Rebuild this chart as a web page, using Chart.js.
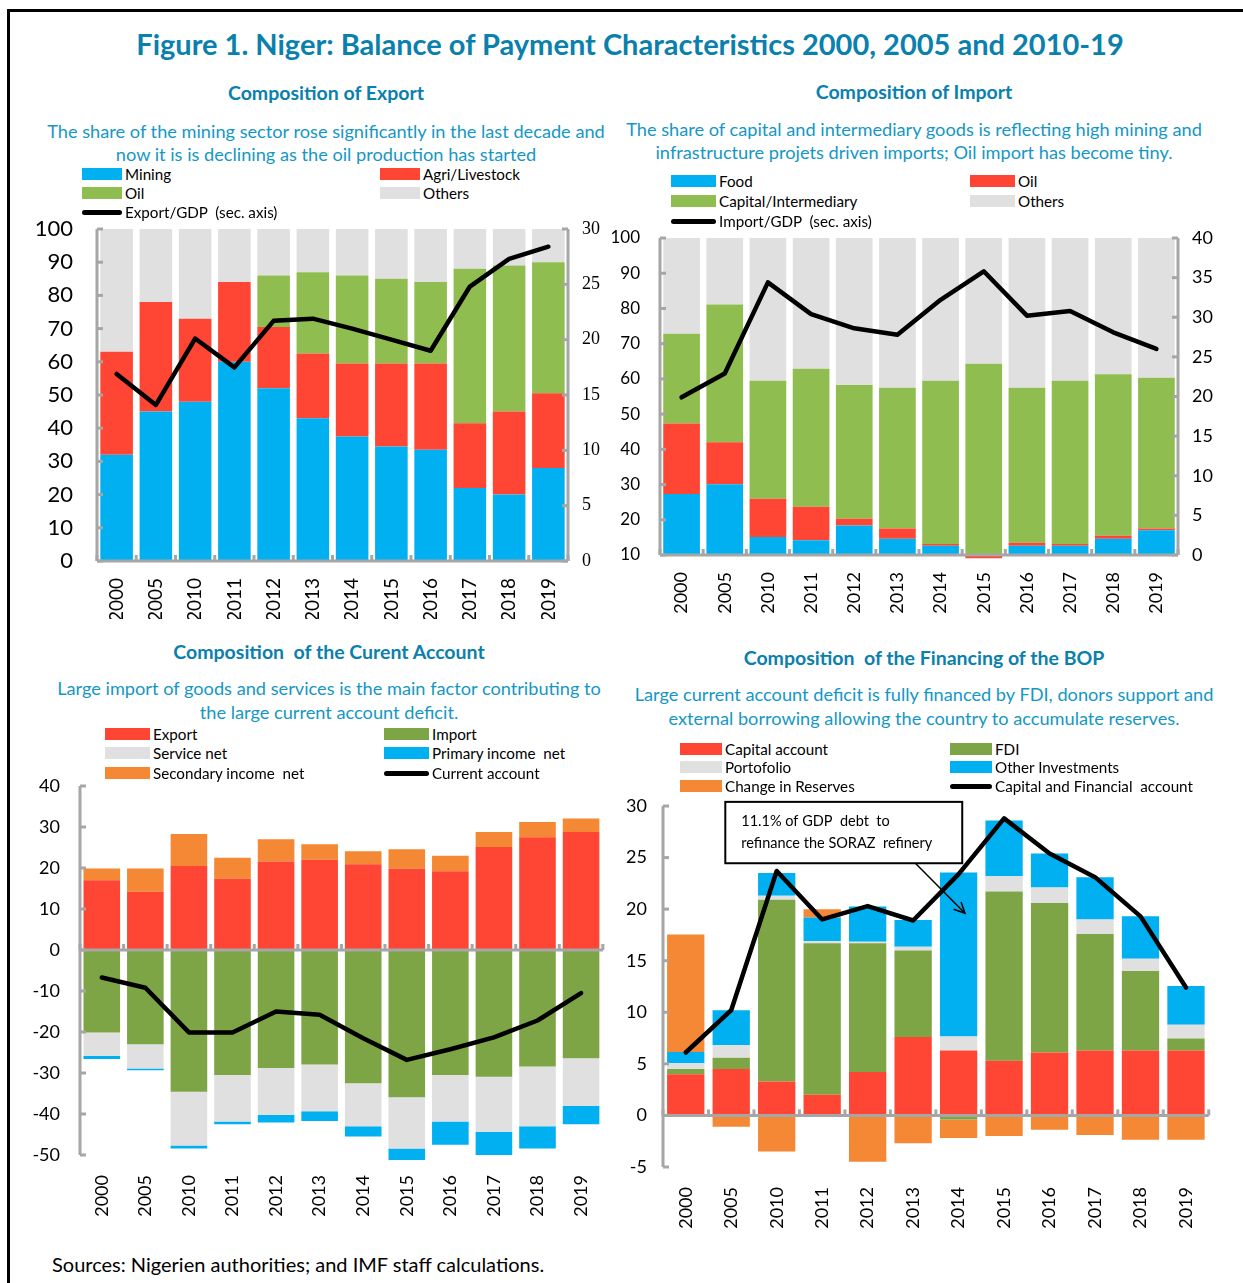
<!DOCTYPE html>
<html>
<head>
<meta charset="utf-8">
<script src="https://cdn.jsdelivr.net/npm/chart.js@4.4.1/dist/chart.umd.min.js"></script>
<style>
  body { margin: 0; background: #fff; font-family: Lato, sans-serif; }
  #page { position: relative; width: 1243px; height: 1283px; overflow: hidden; }
  #frame { position: absolute; left: 7px; top: 9px; width: 1400px; height: 1400px;
           border-left: 3px solid #000; border-top: 3px solid #000; }
  .t { position: absolute; white-space: nowrap; transform: translate(-50%, -50%); }
  .title { font-weight: bold; font-size: 29px; color: #0a80ad; }
  .sub { font-weight: bold; font-size: 19.5px; color: #0a80ad; }
  .desc { font-size: 18.2px; color: #1597c5; }
  .leg { position: absolute; font-size: 15.2px; color: #000; white-space: pre; transform: translateY(-50%); }
  .sw { position: absolute; }
  .src { position: absolute; left: 52px; top: 1264px; transform: translateY(-50%); font-size: 20px; white-space: nowrap; }
  canvas { position: absolute; }
</style>
</head>
<body>
<div id="page">
  <div id="frame"></div>
  <div class="t title" style="left:630px;top:43px">Figure 1. Niger: Balance of Payment Characteristics 2000, 2005 and 2010-19</div>

  <div class="t sub" style="left:326px;top:92px">Composition of Export</div>
  <div class="t desc" style="left:326px;top:131px">The share of the mining sector rose significantly in the last decade and</div>
  <div class="t desc" style="left:326px;top:154px">now it is is declining as the oil production has started</div>

  <div class="t sub" style="left:914px;top:91px">Composition of Import</div>
  <div class="t desc" style="left:914px;top:129px">The share of capital and intermediary goods is reflecting high mining and</div>
  <div class="t desc" style="left:914px;top:152px">infrastructure projets driven imports; Oil import has become tiny.</div>

  <div class="t sub" style="left:329px;top:651px">Composition&nbsp; of the Curent Account</div>
  <div class="t desc" style="left:329px;top:688px">Large import of goods and services is the main factor contributing to</div>
  <div class="t desc" style="left:329px;top:712px">the large current account deficit.</div>

  <div class="t sub" style="left:924px;top:657px">Composition&nbsp; of the Financing of the BOP</div>
  <div class="t desc" style="left:924px;top:694px">Large current account deficit is fully financed by FDI, donors support and</div>
  <div class="t desc" style="left:924px;top:718px">external borrowing allowing the country to accumulate reserves.</div>

  <div class="src">Sources: Nigerien authorities; and IMF staff calculations.</div>

  <canvas id="exportChart" width="600" height="410" style="left:20px;top:209px"></canvas>
  <canvas id="importChart" width="643" height="400" style="left:600px;top:216px"></canvas>
  <canvas id="caChart" width="595" height="455" style="left:20px;top:765px"></canvas>
  <canvas id="bopChart" width="605" height="445" style="left:615px;top:785px"></canvas>
</div>

<script>
const years = ['2000', '2005', '2010', '2011', '2012', '2013', '2014', '2015', '2016', '2017', '2018', '2019'];

// Composition of export (% of total), export/GDP on secondary axis
const expMining = [32, 45, 48, 60, 52, 43, 37.5, 34.5, 33.5, 22, 20, 28];
const expAgri = [31, 33, 25, 24, 18.5, 19.5, 22, 25, 26, 19.5, 25, 22.5];
const expOil = [0, 0, 0, 0, 15.5, 24.5, 26.5, 25.5, 24.5, 46.5, 44, 39.5];
const expOthers = [37, 22, 27, 16, 14, 13, 14, 15, 16, 12, 11, 10];
const exportGdp = [16.9, 14.1, 20.1, 17.5, 21.7, 21.9, 21.0, 20.0, 19.0, 24.8, 27.3, 28.4];
const expLeftTicks = [0, 10, 20, 30, 40, 50, 60, 70, 80, 90, 100];
const expRightTicks = [0, 5, 10, 15, 20, 25, 30];

// Composition of import (% of total), import/GDP on secondary axis
const impFood = [27.3, 30.1, 15.1, 14.2, 18.4, 14.6, 12.6, 9.1, 12.6, 12.6, 14.6, 17.0];
const impOil = [20.0, 11.9, 10.9, 9.5, 1.9, 2.9, 0.5, 0.9, 0.9, 0.5, 0.9, 0.5];
const impCapital = [25.5, 39.1, 33.5, 39.2, 38.0, 40.0, 46.4, 54.3, 44.0, 46.4, 45.8, 42.8];
const impOthers = [27.2, 18.9, 40.5, 37.1, 41.7, 42.5, 40.5, 35.7, 42.5, 40.5, 38.7, 39.7];
const importGdp = [19.9, 22.9, 34.4, 30.4, 28.6, 27.8, 32.2, 35.8, 30.2, 30.8, 28.1, 26.0];
const impLeftTicks = [10, 20, 30, 40, 50, 60, 70, 80, 90, 100];
const impRightTicks = [0, 5, 10, 15, 20, 25, 30, 35, 40];

// Current account (% of GDP)
const caExport = [17.0, 14.2, 20.5, 17.4, 21.6, 22.0, 20.9, 19.8, 19.2, 25.1, 27.5, 28.8];
const caImport = [-20.1, -23.0, -34.6, -30.5, -28.8, -27.9, -32.5, -35.9, -30.5, -30.9, -28.4, -26.4];
const caService = [-5.7, -5.9, -13.1, -11.3, -11.4, -11.4, -10.5, -12.5, -11.3, -13.4, -14.6, -11.6];
const caPrimary = [-0.8, -0.4, -0.7, -0.7, -1.9, -2.4, -2.5, -2.8, -5.7, -5.7, -5.4, -4.5];
const caSecondary = [2.9, 5.7, 7.8, 5.1, 5.4, 3.8, 3.2, 4.8, 3.8, 3.7, 3.7, 3.3];
const currentAccount = [-6.7, -9.2, -20.1, -20.1, -15.0, -15.8, -21.5, -26.8, -24.2, -21.3, -17.2, -10.5];
const caTicks = [-50, -40, -30, -20, -10, 0, 10, 20, 30, 40];

// Financing of the BOP (% of GDP)
const bopCapital = [4.0, 4.5, 3.3, 2.0, 4.2, 7.6, 6.3, 5.3, 6.1, 6.3, 6.3, 6.3];
const bopFdi = [0.5, 1.1, 17.6, 14.7, 12.5, 8.4, -0.4, 16.4, 14.5, 11.3, 7.7, 1.15];
const bopPortfolio = [0.55, 1.2, 0.4, 0.2, 0.15, 0.35, 1.35, 1.5, 1.5, 1.4, 1.2, 1.35];
const bopOther = [1.1, 3.4, 2.2, 2.3, 3.4, 2.6, 15.9, 5.4, 3.3, 4.1, 4.1, 3.75];
const bopReserves = [11.4, -1.1, -3.5, 0.8, -4.5, -2.7, -1.8, -2.0, -1.4, -1.9, -2.35, -2.35];
const capFinAccount = [6.1, 10.2, 23.7, 19.0, 20.3, 18.9, 23.4, 28.8, 25.4, 23.1, 19.3, 12.4];
const bopTicks = [-5, 0, 5, 10, 15, 20, 25, 30];

const BLUE = '#00b0f0', RED = '#ff4533', LGREEN = '#8fbd50', DGREEN = '#7da545',
      GREY = '#e0e0e0', ORANGE = '#f48835', AXIS = '#a6a6a6';

// axis lines with inward tick marks, like the Excel original
const excelAxes = {
  id: 'excelAxes',
  afterDatasetsDraw(chart, args, opts) {
    const { ctx, chartArea: a, scales } = chart;
    ctx.save();
    ctx.strokeStyle = AXIS;
    ctx.lineWidth = 3;
    ['y', 'y1'].forEach(id => {
      const s = scales[id];
      if (!s) return;
      const right = s.position === 'right';
      const x = right ? a.right : a.left;
      ctx.beginPath(); ctx.moveTo(x, a.top); ctx.lineTo(x, a.bottom); ctx.stroke();
      s.ticks.forEach((t, i) => {
        const y = s.getPixelForTick(i);
        ctx.beginPath(); ctx.moveTo(x, y); ctx.lineTo(x + (right ? -6 : 6), y); ctx.stroke();
      });
    });
    const xs = scales.x;
    const y0 = opts.at === undefined ? a.bottom : scales.y.getPixelForValue(opts.at);
    ctx.beginPath(); ctx.moveTo(a.left, y0); ctx.lineTo(a.right, y0); ctx.stroke();
    for (let i = 0; i <= xs.ticks.length; i++) {
      const x = xs.getPixelForValue(i - 0.5);
      ctx.beginPath(); ctx.moveTo(x, y0); ctx.lineTo(x, y0 - 6); ctx.stroke();
    }
    ctx.restore();
  }
};

function bar(label, data, color, extra) {
  return Object.assign({ type: 'bar', label, data, backgroundColor: color, order: 1,
    categoryPercentage: 1, barPercentage: 0.83, yAxisID: 'y' }, extra || {});
}
function line(label, data, axis) {
  return { type: 'line', label, data, borderColor: '#000', backgroundColor: '#000',
    borderWidth: 4.5, pointRadius: 0, tension: 0, order: 0, yAxisID: axis,
    borderJoinStyle: 'round', borderCapStyle: 'round' };
}
function yAxis(pos, min, max, ticks, width, font, pad) {
  return {
    position: pos, min, max, stacked: pos === 'left',
    afterBuildTicks: s => { s.ticks = ticks.map(v => ({ value: v })); },
    afterFit: s => { s.width = width; s.paddingTop = 0; s.paddingBottom = 0; },
    grid: { display: false }, border: { display: false },
    ticks: { color: '#000', font, padding: pad }
  };
}
function xAxis(height, font, pad) {
  return {
    stacked: true, offset: true,
    afterFit: s => { s.height = height; },
    grid: { display: false }, border: { display: false },
    ticks: { color: '#000', font, padding: pad, minRotation: 90, maxRotation: 90, autoSkip: false }
  };
}
function baseOptions(scales, padding, axisOpts) {
  return {
    responsive: false, animation: false,
    layout: { padding },
    plugins: { legend: { display: false }, tooltip: { enabled: false }, excelAxes: axisOpts || {} },
    scales
  };
}

// legend drawn as html next to each chart, built from the datasets
function legend(datasets, spots, swW) {
  const page = document.getElementById('page');
  datasets.forEach((d, i) => {
    const [x, y] = spots[i];
    const sw = document.createElement('div');
    sw.className = 'sw';
    if (d.type === 'line') {
      sw.style.cssText = `left:${x}px;top:${y - 2.5}px;width:${swW}px;height:5px;background:#000;border-radius:3px`;
    } else {
      sw.style.cssText = `left:${x}px;top:${y - 6}px;width:${swW}px;height:12px;background:${d.backgroundColor}`;
    }
    page.appendChild(sw);
    const lb = document.createElement('div');
    lb.className = 'leg';
    lb.style.left = (x + swW + 3) + 'px';
    lb.style.top = y + 'px';
    lb.textContent = d.label;
    page.appendChild(lb);
  });
}

// 1. Export composition
const expSets = [
  bar('Mining', expMining, BLUE),
  bar('Agri/Livestock', expAgri, RED),
  bar('Oil', expOil, LGREEN),
  bar('Others', expOthers, GREY),
  line('Export/GDP  (sec. axis)', exportGdp, 'y1')
];
new Chart(document.getElementById('exportChart'), {
  data: { labels: years, datasets: expSets },
  options: baseOptions({
    x: xAxis(58, { family: 'Lato', size: 19 }, 9),
    y: yAxis('left', 0, 100, expLeftTicks, 77, { family: 'Lato', size: 22 }, 16),
    y1: yAxis('right', 0, 30, expRightTicks, 52, { family: 'Liberation Serif', size: 18 }, 6)
  }, { top: 20, left: 0, right: 0, bottom: 0 }),
  plugins: [excelAxes]
});
legend(expSets, [[82, 174], [380, 174], [82, 193], [380, 193], [82, 212]], 40);

// 2. Import composition
const impSets = [
  bar('Food', impFood, BLUE, { barPercentage: 0.85 }),
  bar('Oil', impOil, RED, { barPercentage: 0.85, clip: false }),
  bar('Capital/Intermediary', impCapital, LGREEN, { barPercentage: 0.85 }),
  bar('Others', impOthers, GREY, { barPercentage: 0.85 }),
  line('Import/GDP  (sec. axis)', importGdp, 'y1')
];
new Chart(document.getElementById('importChart'), {
  data: { labels: years, datasets: impSets },
  options: baseOptions({
    x: xAxis(61, { family: 'Lato', size: 18 }, 9),
    y: yAxis('left', 10, 100, impLeftTicks, 60, { family: 'Lato', size: 17 }, 12),
    y1: yAxis('right', 0, 40, impRightTicks, 65, { family: 'Lato', size: 18 }, 6)
  }, { top: 22, left: 0, right: 0, bottom: 0 }),
  plugins: [excelAxes]
});
legend(impSets, [[671, 181], [970, 181], [671, 201], [970, 201], [671, 221]], 45);

// 3. Current account
const caSets = [
  bar('Export', caExport, RED, { barPercentage: 0.84 }),
  bar('Import', caImport, DGREEN, { barPercentage: 0.84 }),
  bar('Service net', caService, GREY, { barPercentage: 0.84 }),
  bar('Primary income  net', caPrimary, BLUE, { barPercentage: 0.84, clip: false }),
  bar('Secondary income  net', caSecondary, ORANGE, { barPercentage: 0.84 }),
  line('Current account', currentAccount, 'y')
];
new Chart(document.getElementById('caChart'), {
  data: { labels: years, datasets: caSets },
  options: baseOptions({
    x: xAxis(65, { family: 'Lato', size: 18 }, 12),
    y: yAxis('left', -50, 40, caTicks, 60, { family: 'Lato', size: 18 }, 12)
  }, { top: 21, left: 0, right: 8, bottom: 0 }, { at: 0 }),
  plugins: [excelAxes]
});
legend(caSets, [[105, 734], [384, 734], [105, 753], [384, 753], [105, 773], [384, 773]], 45);

// 4. Financing of the BOP
const sorazNote = {
  id: 'sorazNote',
  afterDraw(chart) {
    const { ctx, scales: { x, y } } = chart;
    const l = x.getPixelForValue(0.87), r = x.getPixelForValue(6.08);
    const t = y.getPixelForValue(30.4), b = y.getPixelForValue(24.45);
    ctx.save();
    ctx.fillStyle = '#fff';
    ctx.fillRect(l, t, r - l, b - t);
    ctx.strokeStyle = '#000';
    ctx.lineWidth = 2;
    ctx.strokeRect(l, t, r - l, b - t);
    ctx.fillStyle = '#000';
    ctx.font = '14.5px Lato';
    ctx.textBaseline = 'middle';
    ctx.fillText('11.1% of GDP  debt  to', l + 16, t + (b - t) * 0.32);
    ctx.fillText('refinance the SORAZ  refinery', l + 16, t + (b - t) * 0.68);
    // arrow towards the 2014 other investment bar
    const ax = x.getPixelForValue(5.05), ay = b;
    const hx = x.getPixelForValue(6.14), hy = y.getPixelForValue(19.6);
    ctx.lineWidth = 1.5;
    ctx.beginPath(); ctx.moveTo(ax, ay); ctx.lineTo(hx, hy); ctx.stroke();
    const ang = Math.atan2(hy - ay, hx - ax);
    ctx.beginPath();
    ctx.moveTo(hx - 12 * Math.cos(ang - 0.45), hy - 12 * Math.sin(ang - 0.45));
    ctx.lineTo(hx, hy);
    ctx.lineTo(hx - 12 * Math.cos(ang + 0.45), hy - 12 * Math.sin(ang + 0.45));
    ctx.stroke();
    ctx.restore();
  }
};
const bopSets = [
  bar('Capital account', bopCapital, RED, { barPercentage: 0.82 }),
  bar('FDI', bopFdi, DGREEN, { barPercentage: 0.82 }),
  bar('Portofolio', bopPortfolio, GREY, { barPercentage: 0.82 }),
  bar('Other Investments', bopOther, BLUE, { barPercentage: 0.82 }),
  bar('Change in Reserves', bopReserves, ORANGE, { barPercentage: 0.82 }),
  line('Capital and Financial  account', capFinAccount, 'y')
];
new Chart(document.getElementById('bopChart'), {
  data: { labels: years, datasets: bopSets },
  options: baseOptions({
    x: xAxis(63, { family: 'Lato', size: 18 }, 12),
    y: yAxis('left', -5, 30, bopTicks, 48, { family: 'Lato', size: 18 }, 8)
  }, { top: 21, left: 0, right: 10, bottom: 0 }, { at: 0 }),
  plugins: [excelAxes, sorazNote]
});
legend(bopSets, [[680, 749], [950, 749], [680, 767], [950, 767], [680, 786], [950, 786]], 42);
</script>
</body>
</html>
